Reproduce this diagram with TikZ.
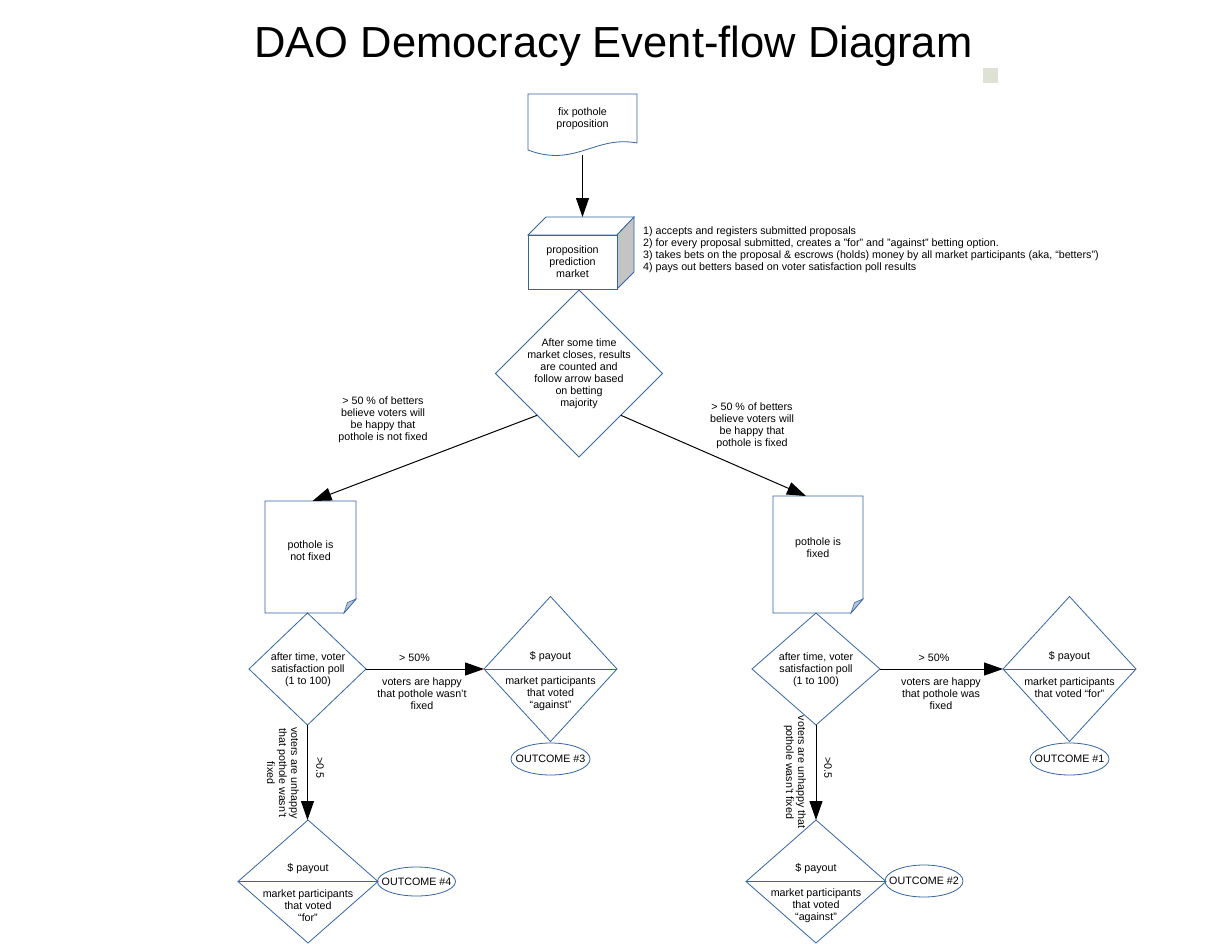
\documentclass[tikz,border=0pt]{standalone}
\usepackage{fontspec}
\setmainfont{Liberation Sans}
\usetikzlibrary{shapes.geometric,arrows.meta}
\definecolor{shapeblue}{HTML}{3465A4}
\definecolor{foldfill}{HTML}{B8C4D8}
\definecolor{sidegrey}{HTML}{C4C4C4}
\definecolor{markgrey}{HTML}{DDE2D5}
\begin{document}
\begin{tikzpicture}[x=1pt,y=-1pt,
  shp/.style={draw=shapeblue, line width=0.8pt, fill=white},
  dia/.style={shape=diamond, draw=shapeblue, line width=0.8pt, inner sep=0pt, outer sep=0pt, aspect=1},
  box/.style={shape=rectangle, inner sep=0pt, outer sep=0pt},
  txt/.style={font=\fontsize{10.7}{12}\selectfont, align=center, inner sep=0pt},
  arr/.style={draw=black, line width=1pt, -{Triangle[length=19pt,width=13pt]}},
  outc/.style={shape=ellipse, draw=shapeblue, line width=0.8pt, inner sep=0pt, outer sep=0pt},
]
\useasboundingbox (0,0) rectangle (1221,943);
\fill[white] (0,0) rectangle (1221,943);

% title and mark
\node[font=\fontsize{43.5}{50}\selectfont, inner sep=0pt, anchor=base] (title) at (613.5,57) {DAO Democracy Event-flow Diagram};
\fill[markgrey] (983,68) rectangle (998,83);

% proposition document
\node[box, minimum width=109pt, minimum height=61pt] (prop) at (582.5,124.5) {};
\draw[shp] (528,94) -- (637,94) -- (637,143) .. controls (595,135) and (575,168) .. (528,150) -- cycle;
\node[txt] (proptxt) at (582.5,119) {fix pothole\\proposition};

% cube
\node[box, minimum width=106pt, minimum height=72pt] (cube) at (581,253) {};
\draw[shp] (528,235) -- (546,217) -- (634,217) -- (617,235) -- cycle;
\draw[draw=shapeblue, line width=0.8pt, fill=sidegrey] (617,235) -- (634,217) -- (634,272) -- (617,289) -- cycle;
\draw[shp] (528,235) rectangle (617,289);
\node[txt] (cubetxt) at (572.5,262) {proposition\\prediction\\market};
\node[txt, align=left, anchor=north west] (list) at (643,227) {1) accepts and registers submitted proposals\\
2) for every proposal submitted, creates a "for" and "against" betting option.\\
3) takes bets on the proposal \& escrows (holds) money by all market participants (aka, “betters”)\\
4) pays out betters based on voter satisfaction poll results};

\draw[arr] (prop.south) -- (prop.south |- cube.north);

% market diamond
\node[dia, minimum width=167pt, minimum height=167pt] (mkt) at (579,373.5) {};
\node[txt] (mkttxt) at (579,373.5) {After some time\\market closes, results\\are counted and\\follow arrow based\\on betting\\majority};

% documents
\node[box, minimum width=91pt, minimum height=112pt] (notfixed) at (310.5,557) {};
\draw[shp] (265,501) -- (356,501) -- (356,599) -- (344,613) -- (265,613) -- cycle;
\draw[draw=shapeblue, line width=0.6pt, fill=foldfill] (356,599) -- (344,613) -- (347.5,602.5) -- cycle;
\node[txt] (notfixedtxt) at (310.5,551) {pothole is\\not fixed};

\node[box, minimum width=90pt, minimum height=117pt] (fixed) at (818,554.5) {};
\draw[shp] (773,496) -- (863,496) -- (863,599) -- (851,613) -- (773,613) -- cycle;
\draw[draw=shapeblue, line width=0.6pt, fill=foldfill] (863,599) -- (851,613) -- (854.5,602.5) -- cycle;
\node[txt] (fixedtxt) at (818,548) {pothole is\\fixed};

\draw[arr] (mkt.south west) -- ([xshift=2pt]notfixed.north);
\draw[arr] (mkt.south east) -- ([xshift=-12pt]fixed.north);
\node[txt] (lblL) at (383,420) {> 50 \% of betters\\believe voters will\\be happy that\\pothole is not fixed};
\node[txt] (lblR) at (752,425.5) {> 50 \% of betters\\believe voters will\\be happy that\\pothole is fixed};

% poll diamonds
\node[dia, minimum width=117pt, minimum height=112pt] (pollL) at (307.5,669) {};
\node[txt] (pollLtxt) at (308,670) {after time, voter\\satisfaction poll\\(1 to 100)};
\node[dia, minimum width=128pt, minimum height=112pt] (pollR) at (816,669) {};
\node[txt] (pollRtxt) at (816,670) {after time, voter\\satisfaction poll\\(1 to 100)};

% payout diamonds
\node[dia, minimum width=133pt, minimum height=145pt] (payL) at (550.5,669) {};
\draw[draw=shapeblue, line width=0.8pt] (payL.west) -- (payL.east);
\node[txt] (payLa) at (550.5,657) {\$ payout};
\node[txt] (payLb) at (550.5,694) {market participants\\that voted\\“against”};

\node[dia, minimum width=133pt, minimum height=145pt] (payR) at (1069.5,669) {};
\draw[draw=shapeblue, line width=0.8pt] (payR.west) -- (payR.east);
\node[txt] (payRa) at (1069.5,657) {\$ payout};
\node[txt] (payRb) at (1069.5,687.5) {market participants\\that voted “for”};

\node[dia, minimum width=140pt, minimum height=123pt] (payBL) at (308,881.5) {};
\draw[draw=shapeblue, line width=0.8pt] (payBL.west) -- (payBL.east);
\node[txt] (payBLa) at (308,869) {\$ payout};
\node[txt] (payBLb) at (308,905.5) {market participants\\that voted\\“for”};

\node[dia, minimum width=140pt, minimum height=123pt] (payBR) at (816,881.5) {};
\draw[draw=shapeblue, line width=0.8pt] (payBR.west) -- (payBR.east);
\node[txt] (payBRa) at (816,869) {\$ payout};
\node[txt] (payBRb) at (816,905.5) {market participants\\that voted\\“against”};

% outcomes
\node[outc, minimum width=79pt, minimum height=32pt] (o3) at (550.5,759) {};
\node[txt] at (o3) {OUTCOME \#3};
\node[outc, minimum width=79pt, minimum height=32pt] (o1) at (1069.5,759) {};
\node[txt] at (o1) {OUTCOME \#1};
\node[outc, minimum width=78pt, minimum height=29pt] (o4) at (416.5,881.5) {};
\node[txt] at (o4) {OUTCOME \#4};
\node[outc, minimum width=78pt, minimum height=32pt] (o2) at (924,881) {};
\node[txt] at (o2) {OUTCOME \#2};

% poll arrows
\draw[arr] (pollL.east) -- (payL.west);
\node[txt] (gtL) at (414.5,657.5) {> 50\%};
\node[txt] (hapL) at (422,694) {voters are happy\\that pothole wasn’t\\fixed};
\draw[arr] (pollR.east) -- (payR.west);
\node[txt] (gtR) at (934,657.5) {> 50\%};
\node[txt] (hapR) at (941,694) {voters are happy\\that pothole was\\fixed};

\draw[arr] (pollL.south) -- (pollL.south |- payBL.north);
\node[txt, rotate=-90] (hL) at (320,768) {>0.5};
\node[txt, rotate=-90] (unL) at (283,773) {voters are unhappy\\that pothole wasn’t\\fixed};
\draw[arr] (pollR.south) -- (payBR.north);
\node[txt, rotate=-90] (hR) at (828,768) {>0.5};
\node[txt, rotate=-90] (unR) at (795,772) {voters are unhappy that\\pothole wasn’t fixed};
\end{tikzpicture}
\end{document}
